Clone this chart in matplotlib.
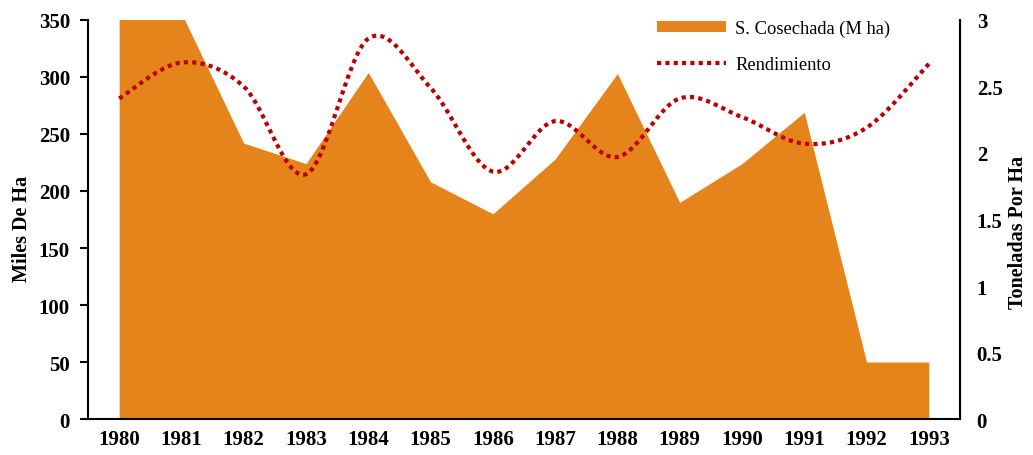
import numpy as np
from matplotlib import pyplot as plt
from matplotlib.patches import Patch
from matplotlib.lines import Line2D

years = [1980, 1981, 1982, 1983, 1984, 1985, 1986, 1987, 1988, 1989, 1990, 1991, 1992, 1993]
# harvested area, thousands of ha (1980-81 run off the top of the axis)
area = [362, 356, 242, 224, 304, 208, 180, 228, 303, 190, 224, 269, 50, 50]
# yield, tonnes per ha
rendimiento = [2.41, 2.68, 2.50, 1.84, 2.86, 2.49, 1.86, 2.24, 1.97, 2.41, 2.27, 2.07, 2.19, 2.67]


def smooth(x, y, n=30):
    """Catmull-Rom style curve through the points (like a spreadsheet smoothed line)"""
    x = np.asarray(x, float)
    y = np.asarray(y, float)
    xs, ys = [], []
    for i in range(len(x) - 1):
        p0 = (x[max(i - 1, 0)], y[max(i - 1, 0)])
        p1 = (x[i], y[i])
        p2 = (x[i + 1], y[i + 1])
        p3 = (x[min(i + 2, len(x) - 1)], y[min(i + 2, len(x) - 1)])
        c1 = (p1[0] + (p2[0] - p0[0]) / 6, p1[1] + (p2[1] - p0[1]) / 6)
        c2 = (p2[0] - (p3[0] - p1[0]) / 6, p2[1] - (p3[1] - p1[1]) / 6)
        t = np.linspace(0, 1, n)
        bx = (1 - t)**3 * p1[0] + 3 * (1 - t)**2 * t * c1[0] + 3 * (1 - t) * t**2 * c2[0] + t**3 * p2[0]
        by = (1 - t)**3 * p1[1] + 3 * (1 - t)**2 * t * c1[1] + 3 * (1 - t) * t**2 * c2[1] + t**3 * p2[1]
        xs.extend(bx)
        ys.extend(by)
    return np.array(xs), np.array(ys)


plt.rcParams['font.family'] = 'Liberation Serif'

fig = plt.figure(figsize=(10.33, 4.56), dpi=100)
ax = fig.add_axes([0.0852, 0.0789, 0.8441, 0.8751])
ax2 = ax.twinx()

orange = '#E4841A'
red = '#C00000'
tick_fs = 15

ax.fill_between(years, 0, area, color=orange, linewidth=0)
ax.set_xlim(1979.5, 1993.5)
ax.set_ylim(0, 350)
ax.set_yticks(range(0, 351, 50))
ax.set_xticks(years)
ax.set_xticklabels([str(y) for y in years], fontsize=tick_fs, fontweight='bold')
ax.tick_params(axis='x', length=0, pad=7)
ax.tick_params(axis='y', length=6, width=1.5, direction='out', pad=7)
for lbl in ax.get_yticklabels():
    lbl.set_fontsize(tick_fs)
    lbl.set_fontweight('bold')
ax.set_ylabel('Miles De Ha', fontsize=14.5, fontweight='bold')
ax.yaxis.set_label_coords(-0.064, 0.48)
ax.spines['top'].set_visible(False)
for s in ['left', 'bottom']:
    ax.spines[s].set_linewidth(1.5)

sx, sy = smooth(years, rendimiento)
ax2.plot(sx, sy, color=red, linestyle=(0, (1, 1)), linewidth=3)
ax2.set_ylim(0, 3)
ax2.set_yticks([0, 0.5, 1, 1.5, 2, 2.5, 3])
ax2.set_yticklabels(['0', '0.5', '1', '1.5', '2', '2.5', '3'], fontsize=tick_fs, fontweight='bold')
ax2.tick_params(axis='y', length=0, pad=12)
ax2.set_ylabel('Toneladas Por Ha', fontsize=14.5, fontweight='bold', rotation=90)
ax2.yaxis.set_label_coords(1.055, 0.47)
ax2.spines['top'].set_visible(False)
ax2.spines['left'].set_visible(False)
ax2.spines['bottom'].set_visible(False)
ax2.spines['right'].set_linewidth(1.5)

handles = [Patch(facecolor=orange, edgecolor='none', label='S. Cosechada (M ha)'),
           Line2D([0], [0], color=red, linestyle=(0, (1, 1)), linewidth=3, label='Rendimiento')]
leg = ax2.legend(handles=handles, loc='upper right', bbox_to_anchor=(0.939, 1.042),
                 frameon=False, fontsize=13.3, handlelength=3.7, handleheight=0.5,
                 labelspacing=1.0, handletextpad=0.5)

fig.savefig('out.png', dpi=100)
